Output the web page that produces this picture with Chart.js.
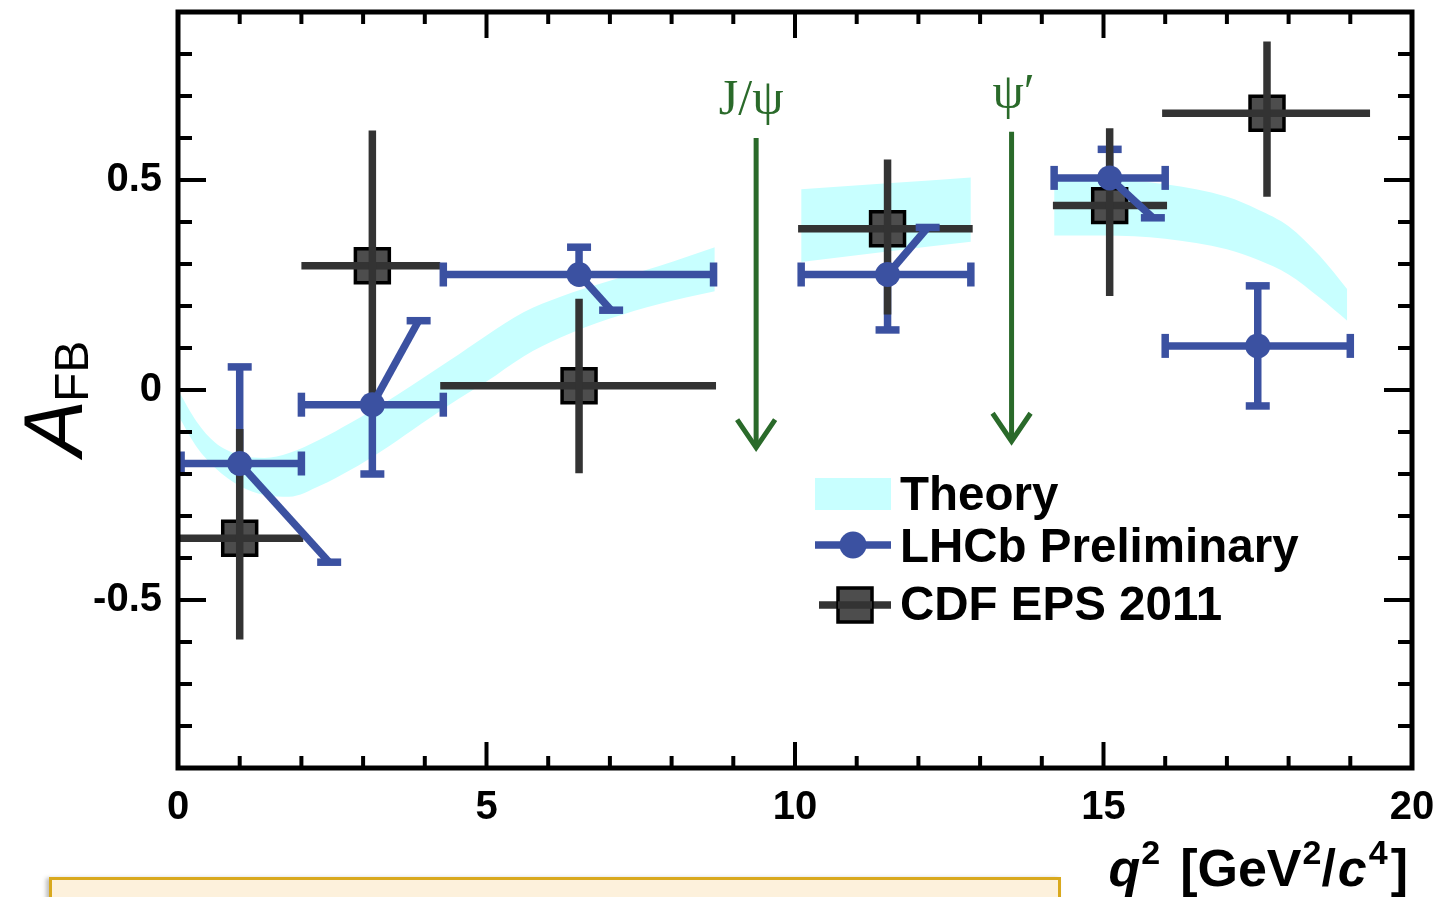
<!DOCTYPE html>
<html>
<head>
<meta charset="utf-8">
<title>A_FB vs q²</title>
<script src="https://cdn.jsdelivr.net/npm/chart.js@4.4.1/dist/chart.umd.min.js"></script>
<style>
  html, body { margin: 0; padding: 0; background: #ffffff; overflow: hidden; }
  #wrap { position: relative; width: 1442px; height: 897px; }
  #c { position: absolute; left: 0; top: 0; }
  #note { position: absolute; left: 49px; top: 877px; width: 1006px; height: 40px;
          background: #fdf1dc; border: 3px solid #d9a91e; box-shadow: -3px 1px 4px rgba(0,0,0,0.25); }
</style>
</head>
<body>
<div id="wrap">
  <canvas id="c" width="1442" height="897"></canvas>
  <div id="note"></div>
</div>
<script>
// ---- axis ticks ----
const xTickValues = [0, 5, 10, 15, 20];
const yTickValues = [-0.5, 0, 0.5];

// ---- theory band (three q² windows) ----
const theoryQ2a   = [0, 0.3, 0.6, 1.0, 1.4, 1.8, 2.3, 2.8, 3.3, 3.8, 4.4, 5.0, 5.6, 6.2, 7.0, 7.8, 8.7];
const theoryLoA   = [-0.06, -0.135, -0.185, -0.228, -0.25, -0.254, -0.228, -0.19, -0.145, -0.095, -0.035, 0.02, 0.08, 0.125, 0.17, 0.205, 0.235];
const theoryHiA   = [0.0, -0.075, -0.125, -0.155, -0.162, -0.15, -0.118, -0.078, -0.035, 0.012, 0.07, 0.13, 0.185, 0.222, 0.26, 0.295, 0.34];
const theoryQ2b   = [10.1, 11.5, 12.85];
const theoryLoB   = [0.305, 0.33, 0.353];
const theoryHiB   = [0.478, 0.492, 0.506];
const theoryQ2c   = [14.2, 15.0, 16.0, 17.0, 17.5, 18.0, 18.5, 18.95];
const theoryLoC   = [0.368, 0.368, 0.36, 0.335, 0.31, 0.275, 0.22, 0.165];
const theoryHiC   = [0.50, 0.50, 0.49, 0.46, 0.43, 0.39, 0.32, 0.24];

// ---- LHCb preliminary ----
const lhcbQ2      = [1.0, 3.15, 6.5, 11.5, 15.1, 17.5];
const lhcbAfb     = [-0.175, -0.035, 0.275, 0.275, 0.505, 0.105];
const lhcbQ2Lo    = [0.05, 2.0, 4.3, 10.1, 14.2, 16.0];
const lhcbQ2Hi    = [2.0, 4.3, 8.68, 12.85, 16.0, 19.0];
const lhcbAfbUp   = [0.055, 0.165, 0.34, 0.387, 0.573, 0.248];
const lhcbAfbDown = [-0.41, -0.20, 0.19, 0.143, 0.41, -0.038];
const lhcbUpQ2    = [1.0, 3.9, 6.5, 12.15, 15.1, 17.5];   // q² where the upper bar ends
const lhcbDownQ2  = [2.45, 3.15, 7.02, 11.5, 15.8, 17.5]; // q² where the lower bar ends

// ---- CDF EPS 2011 ----
const cdfQ2       = [1.0, 3.15, 6.5, 11.5, 15.1, 17.65];
const cdfAfb      = [-0.353, 0.296, 0.01, 0.384, 0.439, 0.659];
const cdfQ2Lo     = [0.0, 2.0, 4.25, 10.05, 14.18, 15.95];
const cdfQ2Hi     = [2.03, 4.25, 8.72, 12.88, 16.03, 19.32];
const cdfAfbUp    = [-0.093, 0.618, 0.217, 0.549, 0.623, 0.83];
const cdfAfbDown  = [-0.594, -0.03, -0.198, 0.18, 0.224, 0.46];

// ---- charmonium vetoes ----
const resonanceNames = ['J/\u03C8', '\u03C8\u2032'];
const resonanceQ2    = [9.37, 13.51];
const arrowTop       = [0.60, 0.615];
const arrowTip       = [-0.137, -0.122];

const BLUE = '#3b51a1';
const DARK = '#333333';
const GREEN = '#2a6a2a';
const CYAN = '#c8ffff';
const SANS = '"Liberation Sans", Arial, Helvetica, sans-serif';

const pts = (xs, ys) => xs.map((x, i) => ({ x: x, y: ys[i] }));
const noPadding = () => ({ left: 0, top: 0, right: 0, bottom: 0 });

function seg(ctx, x1, y1, x2, y2, w, color) {
  ctx.beginPath();
  ctx.lineWidth = w;
  ctx.strokeStyle = color;
  ctx.lineCap = 'butt';
  ctx.moveTo(x1, y1);
  ctx.lineTo(x2, y2);
  ctx.stroke();
}

const BAR_W = 7.5;
const CAP_W = 7.5;
const CAP_HALF = 12;

const errorBars = {
  id: 'errorBars',
  beforeDatasetDraw(chart, args) {
    if (chart.data.datasets[args.index].label !== 'CDF EPS 2011') return;
    const { ctx, scales: { x, y } } = chart;
    ctx.save();
    // straight vertical LHCb bars sit underneath the CDF points
    lhcbQ2.forEach((q, i) => {
      const X = x.getPixelForValue(q), Y = y.getPixelForValue(lhcbAfb[i]);
      [[lhcbUpQ2[i], lhcbAfbUp[i]], [lhcbDownQ2[i], lhcbAfbDown[i]]].forEach(([eq, ev]) => {
        if (eq !== q) return;
        const EY = y.getPixelForValue(ev);
        seg(ctx, X, Y, X, EY, BAR_W, BLUE);
        seg(ctx, X - CAP_HALF, EY, X + CAP_HALF, EY, CAP_W, BLUE);
      });
    });
    ctx.restore();
  },
  afterDatasetDraw(chart, args) {
    if (chart.data.datasets[args.index].label !== 'CDF EPS 2011') return;
    const { ctx, scales: { x, y } } = chart;
    ctx.save();
    // CDF bars (no end caps), drawn over their squares
    cdfQ2.forEach((q, i) => {
      const X = x.getPixelForValue(q), Y = y.getPixelForValue(cdfAfb[i]);
      seg(ctx, x.getPixelForValue(cdfQ2Lo[i]), Y, x.getPixelForValue(cdfQ2Hi[i]), Y, BAR_W, DARK);
      seg(ctx, X, y.getPixelForValue(cdfAfbUp[i]), X, y.getPixelForValue(cdfAfbDown[i]), BAR_W, DARK);
    });
    // LHCb horizontal bars and slanted vertical bars
    lhcbQ2.forEach((q, i) => {
      const X = x.getPixelForValue(q), Y = y.getPixelForValue(lhcbAfb[i]);
      const L = x.getPixelForValue(lhcbQ2Lo[i]), R = x.getPixelForValue(lhcbQ2Hi[i]);
      seg(ctx, L, Y, R, Y, BAR_W, BLUE);
      seg(ctx, L, Y - CAP_HALF, L, Y + CAP_HALF, CAP_W, BLUE);
      seg(ctx, R, Y - CAP_HALF, R, Y + CAP_HALF, CAP_W, BLUE);
      [[lhcbUpQ2[i], lhcbAfbUp[i]], [lhcbDownQ2[i], lhcbAfbDown[i]]].forEach(([eq, ev]) => {
        if (eq === q) return;
        const EX = x.getPixelForValue(eq), EY = y.getPixelForValue(ev);
        seg(ctx, X, Y, EX, EY, BAR_W, BLUE);
        seg(ctx, EX - CAP_HALF, EY, EX + CAP_HALF, EY, CAP_W, BLUE);
      });
    });
    ctx.restore();
  }
};

const decorations = {
  id: 'decorations',
  afterDatasetsDraw(chart) {
    const { ctx, scales: { x, y } } = chart;
    ctx.save();
    // resonance arrows
    resonanceQ2.forEach((q, i) => {
      const X = x.getPixelForValue(q);
      const T = y.getPixelForValue(arrowTop[i]);
      const B = y.getPixelForValue(arrowTip[i]);
      seg(ctx, X, T, X, B - 2, 5, GREEN);
      ctx.beginPath();
      ctx.lineWidth = 5;
      ctx.strokeStyle = GREEN;
      ctx.lineJoin = 'miter';
      ctx.moveTo(X - 19, B - 28);
      ctx.lineTo(X, B);
      ctx.lineTo(X + 19, B - 28);
      ctx.stroke();
      ctx.fillStyle = GREEN;
      ctx.font = '50px "Liberation Serif", "DejaVu Serif", serif';
      ctx.textAlign = 'center';
      ctx.textBaseline = 'alphabetic';
      ctx.fillText(resonanceNames[i], X + (i === 0 ? -5 : 2), T - 24);
    });
    ctx.restore();
  },
  afterDraw(chart) {
    const { ctx, chartArea: a, scales: { x, y } } = chart;
    ctx.save();
    // frame
    ctx.lineWidth = 5;
    ctx.strokeStyle = '#000';
    ctx.strokeRect(a.left, a.top, a.right - a.left, a.bottom - a.top);
    // inward tick marks on all four sides
    for (let k = -9; k <= 9; k++) {
      const Y = y.getPixelForValue(k / 10);
      const len = (k % 5 === 0) ? 28 : 14;
      seg(ctx, a.left, Y, a.left + len, Y, 4, '#000');
      seg(ctx, a.right - len, Y, a.right, Y, 4, '#000');
    }
    for (let k = 0; k <= 20; k++) {
      const X = x.getPixelForValue(k);
      const len = (k % 5 === 0) ? 26 : 12;
      seg(ctx, X, a.bottom, X, a.bottom - len, 4, '#000');
      seg(ctx, X, a.top, X, a.top + len, 4, '#000');
    }

    // y title: A_FB
    ctx.save();
    ctx.translate(82, 456);
    ctx.rotate(-Math.PI / 2);
    ctx.fillStyle = '#000';
    ctx.textAlign = 'left';
    ctx.textBaseline = 'alphabetic';
    ctx.font = 'italic 84px ' + SANS;
    ctx.fillText('A', 0, 0);
    const aw = ctx.measureText('A').width;
    ctx.font = '48px ' + SANS;
    ctx.fillText('FB', aw - 2, 6);
    ctx.restore();

    // x title: q² [GeV²/c⁴], right aligned
    const parts = [
      ['q', 'italic bold 52px', 0, 1],
      ['2', 'bold 34px', -22, 20],
      ['[GeV', 'bold 52px', 0, 1],
      ['2', 'bold 34px', -22, 0],
      ['/', 'bold 52px', 0, 2],
      ['c', 'italic bold 52px', 0, 2],
      ['4', 'bold 34px', -22, 3],
      [']', 'bold 52px', 0, 0]
    ];
    let total = 0;
    parts.forEach(p => { ctx.font = p[1] + ' ' + SANS; total += ctx.measureText(p[0]).width + p[3]; });
    let cx = 1408 - total;
    ctx.textAlign = 'left';
    ctx.textBaseline = 'alphabetic';
    ctx.fillStyle = '#000';
    parts.forEach(p => {
      ctx.font = p[1] + ' ' + SANS;
      ctx.fillText(p[0], cx, 886 + p[2]);
      cx += ctx.measureText(p[0]).width + p[3];
    });

    // legend
    ctx.fillStyle = CYAN;
    ctx.fillRect(815, 478, 76, 32);
    seg(ctx, 815, 545, 891, 545, BAR_W, BLUE);
    ctx.beginPath();
    ctx.fillStyle = BLUE;
    ctx.arc(853, 545, 13.5, 0, Math.PI * 2);
    ctx.fill();
    seg(ctx, 819, 605, 891, 605, BAR_W, DARK);
    ctx.fillStyle = '#4d4d4d';
    ctx.fillRect(838, 588, 34, 34);
    ctx.lineWidth = 3.5;
    ctx.strokeStyle = '#000';
    ctx.strokeRect(838, 588, 34, 34);
    seg(ctx, 838, 605, 872, 605, BAR_W, DARK);
    ctx.fillStyle = '#000';
    ctx.font = 'bold 47.5px ' + SANS;
    ctx.textBaseline = 'middle';
    ctx.fillText('Theory', 900, 497);
    ctx.fillText('LHCb Preliminary', 900, 549);
    ctx.fillText('CDF EPS 2011', 900, 607);
    ctx.restore();
  }
};

const band = (xs, lo, hi) => ([
  { type: 'line', label: 'theory-lo', data: pts(xs, lo), showLine: true, pointRadius: 0,
    borderWidth: 0, borderColor: 'rgba(0,0,0,0)', fill: false, tension: 0.4,
    cubicInterpolationMode: 'monotone', order: 3 },
  { type: 'line', label: 'theory-hi', data: pts(xs, hi), showLine: true, pointRadius: 0,
    borderWidth: 0, borderColor: 'rgba(0,0,0,0)', backgroundColor: CYAN, fill: '-1', tension: 0.4,
    cubicInterpolationMode: 'monotone', order: 3 }
]);

new Chart(document.getElementById('c'), {
  type: 'scatter',
  data: {
    datasets: [
      ...band(theoryQ2a, theoryLoA, theoryHiA),
      ...band(theoryQ2b, theoryLoB, theoryHiB),
      ...band(theoryQ2c, theoryLoC, theoryHiC),
      { label: 'CDF EPS 2011', data: pts(cdfQ2, cdfAfb), pointStyle: 'rect', pointRadius: 24,
        backgroundColor: '#4d4d4d', borderColor: '#000', borderWidth: 3.5, order: 2 },
      { label: 'LHCb Preliminary', data: pts(lhcbQ2, lhcbAfb), pointStyle: 'circle', pointRadius: 12.5,
        backgroundColor: BLUE, borderWidth: 0, order: 1 }
    ]
  },
  options: {
    responsive: false,
    animation: false,
    layout: { autoPadding: false, padding: { top: 12, right: 30, left: 0, bottom: 0 } },
    plugins: { legend: { display: false }, tooltip: { enabled: false } },
    scales: {
      x: {
        type: 'linear', min: 0, max: 20,
        afterBuildTicks: s => { s.ticks = xTickValues.map(v => ({ value: v })); },
        afterFit: s => { s.height = 129; s.getPadding = noPadding; },
        grid: { display: false, drawTicks: false },
        border: { display: false },
        ticks: { color: '#000', padding: 16, maxRotation: 0, autoSkip: false,
                 font: { family: SANS, weight: 'bold', size: 40 },
                 callback: v => String(v) }
      },
      y: {
        type: 'linear', min: -0.9, max: 0.9,
        afterBuildTicks: s => { s.ticks = yTickValues.map(v => ({ value: v })); },
        afterFit: s => { s.width = 178; s.getPadding = noPadding; },
        grid: { display: false, drawTicks: false },
        border: { display: false },
        ticks: { color: '#000', padding: 16, autoSkip: false,
                 font: { family: SANS, weight: 'bold', size: 40 },
                 callback: v => String(v) }
      }
    }
  },
  plugins: [errorBars, decorations]
});
</script>
</body>
</html>
